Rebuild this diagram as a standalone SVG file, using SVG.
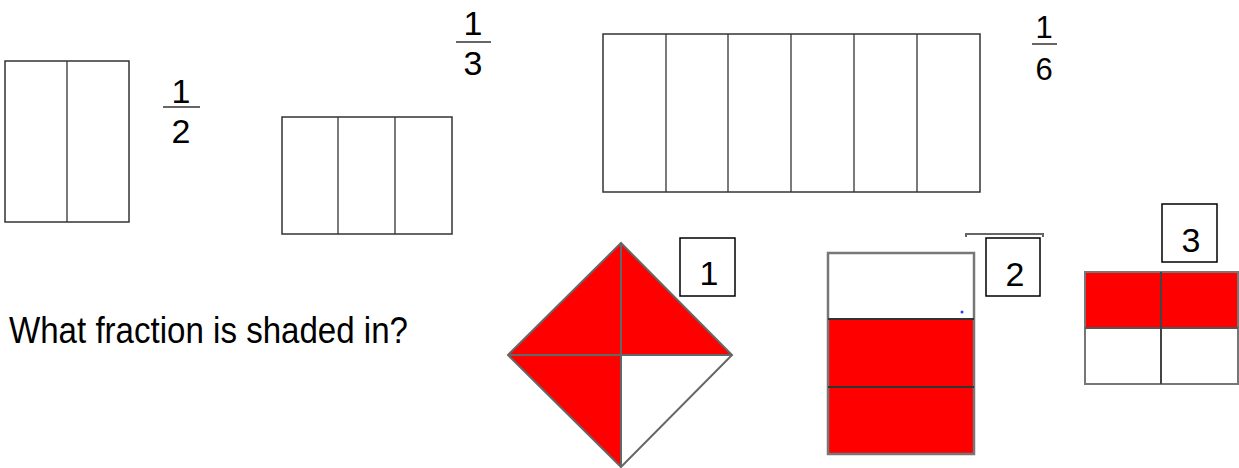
<svg xmlns="http://www.w3.org/2000/svg" width="1239" height="468" viewBox="0 0 1239 468">
<style>
.grid{fill:#fff;stroke:#333;stroke-width:1.5}
.div{stroke:#333;stroke-width:1.3}
.bar{stroke:#333;stroke-width:1.5}
.num{font-family:"Liberation Sans",Arial,sans-serif;font-size:34px;fill:#000;text-anchor:middle}
.num6{font-family:"Liberation Sans",Arial,sans-serif;font-size:31px;fill:#000;text-anchor:middle}
.box{fill:#fff;stroke:#000;stroke-width:1.5}
.red{fill:#ff0000}
.shape{stroke:#666;stroke-width:2;fill:none}
.q{font-family:"Liberation Sans",Arial,sans-serif;font-size:36px;fill:#000}
</style>
<rect width="1239" height="468" fill="#fff"/>
<g id="half">
<rect class="grid" x="5" y="61" width="124" height="161"/>
<line class="div" x1="67" y1="61" x2="67" y2="222"/>
<text class="num" x="181" y="103">1</text>
<line class="bar" x1="163" y1="107" x2="200" y2="107"/>
<text class="num" x="181" y="143">2</text>
</g>
<g id="third">
<rect class="grid" x="282" y="117" width="170" height="117"/>
<line class="div" x1="338" y1="117" x2="338" y2="234"/>
<line class="div" x1="395" y1="117" x2="395" y2="234"/>
<text class="num" x="473" y="35">1</text>
<line class="bar" x1="456" y1="42" x2="491" y2="42"/>
<text class="num" x="473" y="75">3</text>
</g>
<g id="sixth">
<rect class="grid" x="603" y="34" width="377" height="158"/>
<line class="div" x1="666" y1="34" x2="666" y2="192"/>
<line class="div" x1="728" y1="34" x2="728" y2="192"/>
<line class="div" x1="791" y1="34" x2="791" y2="192"/>
<line class="div" x1="854" y1="34" x2="854" y2="192"/>
<line class="div" x1="917" y1="34" x2="917" y2="192"/>
<text class="num6" x="1044" y="38">1</text>
<line class="bar" x1="1032" y1="44" x2="1057" y2="44"/>
<text class="num6" x="1044" y="80">6</text>
</g>
<g id="question">
<text class="q" x="9" y="343" textLength="399" lengthAdjust="spacingAndGlyphs">What fraction is shaded in?</text>
</g>
<g id="diamond">
<polygon class="red" points="621,243 732,355 621,355"/>
<polygon class="red" points="621,243 621,355 508,355"/>
<polygon class="red" points="508,355 621,355 621,467"/>
<polygon fill="#fff" points="621,355 732,355 621,467"/>
<polygon class="shape" points="621,243 732,355 621,467 508,355"/>
<line class="shape" x1="621" y1="243" x2="621" y2="467"/>
<line class="shape" x1="508" y1="355" x2="732" y2="355"/>
<rect class="box" x="680" y="238" width="55" height="58"/>
<text class="num" x="709" y="285">1</text>
</g>
<g id="bars">
<rect fill="#fff" x="828" y="253" width="146" height="66"/>
<rect class="red" x="828" y="319" width="146" height="135"/>
<rect x="828" y="253" width="146" height="201" fill="none" stroke="#777" stroke-width="2.5"/>
<line x1="828" y1="319" x2="974" y2="319" stroke="#333" stroke-width="2"/>
<line x1="828" y1="387" x2="974" y2="387" stroke="#333" stroke-width="2"/>
<circle cx="962" cy="312" r="1.5" fill="#3333ff"/>
<polyline points="966,237 966,234 1043,234 1043,237" fill="none" stroke="#666" stroke-width="2"/>
<rect class="box" x="986" y="238" width="54" height="58"/>
<text class="num" x="1015" y="286">2</text>
</g>
<g id="quarters">
<rect class="red" x="1085" y="272" width="153" height="56"/>
<rect fill="#fff" x="1085" y="328" width="153" height="56"/>
<rect x="1085" y="272" width="153" height="112" fill="none" stroke="#777" stroke-width="2"/>
<line x1="1085" y1="328" x2="1238" y2="328" stroke="#555" stroke-width="2"/>
<line x1="1161" y1="272" x2="1161" y2="384" stroke="#444" stroke-width="2"/>
<rect class="box" x="1162" y="204" width="55" height="58"/>
<text class="num" x="1191" y="252">3</text>
</g>
</svg>
